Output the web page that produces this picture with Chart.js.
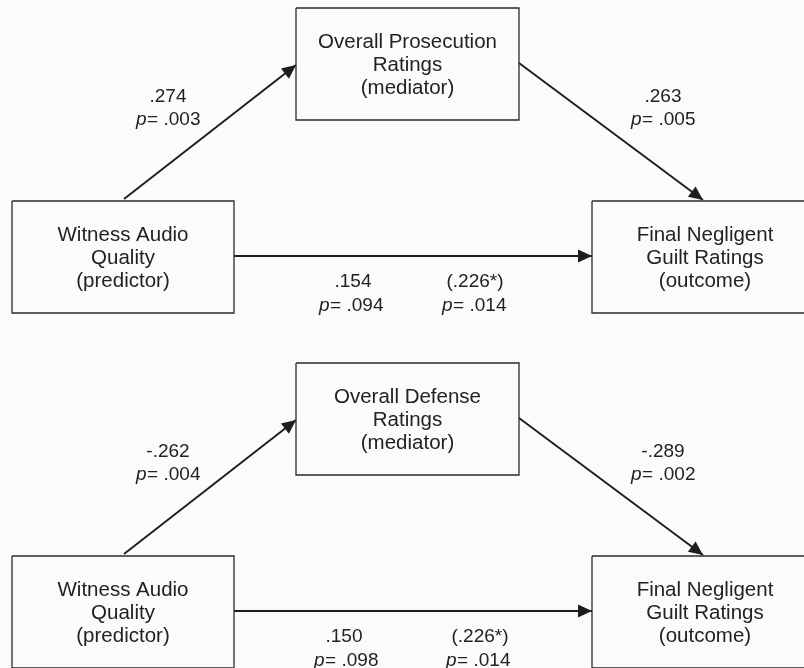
<!DOCTYPE html>
<html>
<head>
<meta charset="utf-8">
<title>Mediation models: witness audio quality and negligent guilt ratings</title>
<script src="https://cdn.jsdelivr.net/npm/chart.js@4.4.1/dist/chart.umd.min.js"></script>
<style>
  html, body { margin: 0; padding: 0; background: #fbfbfb; }
  #wrap { position: relative; width: 804px; height: 668px; }
</style>
</head>
<body>
<div id="wrap"><canvas id="diagram"></canvas></div>
<script>
// ---- Model content: node labels and path estimates for each mediation model ----
const predictorLabel = ['Witness Audio', 'Quality', '(predictor)'];
const mediatorLabels = [
  ['Overall Prosecution', 'Ratings', '(mediator)'],
  ['Overall Defense', 'Ratings', '(mediator)']
];
const outcomeLabel = ['Final Negligent', 'Guilt Ratings', '(outcome)'];

// a path: predictor -> mediator
const pathA  = [0.274, -0.262];
const pathAP = [0.003, 0.004];
// b path: mediator -> outcome
const pathB  = [0.263, -0.289];
const pathBP = [0.005, 0.002];
// c' path: direct effect of predictor on outcome
const directC  = [0.154, 0.150];
const directCP = [0.094, 0.098];
// c path: total effect (shown in parentheses)
const totalC   = [0.226, 0.226];
const totalCP  = [0.014, 0.014];
const totalSig = ['*', '*'];

// ---- Layout (diagram units = pixels of an 804 x 668 page) ----
const W = 804, H = 668;
const panelTop = [0, 355];
const boxes = {
  predictor: { x: 12,  y: 201, w: 222, h: 112 },
  mediator:  { x: 296, y: 8,   w: 223, h: 112 },
  outcome:   { x: 592, y: 201, w: 224, h: 112 }
};
const edgeGeom = {
  a: [[124, 199], [296, 65]],
  b: [[519, 63],  [703, 200]],
  c: [[234, 256], [592, 256]]
};
const labelPos = {
  a:      [[168, 102], [168, 125]],
  b:      [[663, 102], [663, 125]],
  direct: [[[353, 287], [351, 311]], [[344, 287], [346, 311]]],
  total:  [[[475, 287], [474, 311]], [[480, 287], [478, 311]]]
};
const LINE_GAP = 23;
const FONT = '"Liberation Sans", Arial, Helvetica, sans-serif';
const INK = '#1d1d1d';

const fmt = v => (v < 0 ? '-' : '') + Math.abs(v).toFixed(3).replace(/^0/, '');

// ---- Datasets: box outlines and path lines ----
function boxPoints(b, dy) {
  return [
    { x: b.x, y: b.y + dy }, { x: b.x + b.w, y: b.y + dy },
    { x: b.x + b.w, y: b.y + b.h + dy }, { x: b.x, y: b.y + b.h + dy },
    { x: b.x, y: b.y + dy }
  ];
}
const datasets = [];
panelTop.forEach((dy, p) => {
  Object.keys(boxes).forEach(k => {
    datasets.push({
      label: 'box-' + k + '-' + p, data: boxPoints(boxes[k], dy),
      showLine: true, borderColor: '#2a2a2a', borderWidth: 1.3,
      pointRadius: 0, fill: false, tension: 0, arrow: false
    });
  });
  Object.keys(edgeGeom).forEach(k => {
    datasets.push({
      label: 'path-' + k + '-' + p,
      data: edgeGeom[k].map(([x, y]) => ({ x, y: y + dy })),
      showLine: true, borderColor: INK, borderWidth: 1.9,
      pointRadius: 0, fill: false, tension: 0, arrow: true
    });
  });
});

// ---- Plugin: arrowheads and all text ----
function drawPLine(ctx, cx, cy, pval, size) {
  const italic = 'italic ' + size + 'px ' + FONT;
  const normal = size + 'px ' + FONT;
  const rest = '= ' + fmt(pval);
  ctx.font = italic; const wp = ctx.measureText('p').width;
  ctx.font = normal; const wr = ctx.measureText(rest).width;
  const x0 = cx - (wp + wr) / 2;
  ctx.textAlign = 'left';
  ctx.font = italic; ctx.fillText('p', x0, cy);
  ctx.font = normal; ctx.fillText(rest, x0 + wp + 0.5, cy);
}

const diagramPlugin = {
  id: 'diagram',
  beforeDraw(chart) {
    const { ctx } = chart;
    ctx.save();
    ctx.fillStyle = '#fbfbfb';
    ctx.fillRect(0, 0, chart.width, chart.height);
    ctx.restore();
  },
  afterDatasetsDraw(chart) {
    const { ctx, scales: { x: sx, y: sy } } = chart;
    const px = v => sx.getPixelForValue(v);
    const py = v => sy.getPixelForValue(v);
    ctx.save();

    // arrowheads at the end of each path line
    chart.data.datasets.forEach(ds => {
      if (!ds.arrow) return;
      const n = ds.data.length;
      const x1 = px(ds.data[n - 2].x), y1 = py(ds.data[n - 2].y);
      const x2 = px(ds.data[n - 1].x), y2 = py(ds.data[n - 1].y);
      const ang = Math.atan2(y2 - y1, x2 - x1);
      const len = 14, half = 6.5;
      ctx.save();
      ctx.translate(x2, y2);
      ctx.rotate(ang);
      ctx.beginPath();
      ctx.moveTo(0, 0);
      ctx.lineTo(-len, -half);
      ctx.lineTo(-len, half);
      ctx.closePath();
      ctx.fillStyle = INK;
      ctx.fill();
      ctx.restore();
    });

    ctx.fillStyle = '#222';
    ctx.textBaseline = 'alphabetic';

    panelTop.forEach((dy, p) => {
      // node labels, centered in each box
      const nodeText = [
        [boxes.predictor, predictorLabel, 0],
        [boxes.mediator, mediatorLabels[p], 1],
        [boxes.outcome, outcomeLabel, 2]
      ];
      ctx.font = '20.5px ' + FONT;
      ctx.textAlign = 'center';
      nodeText.forEach(([b, lines, idx]) => {
        const cx = idx === 2 ? b.x + 113 : b.x + b.w / 2;
        const midBase = b.y + b.h / 2 + 7 + dy;
        lines.forEach((t, i) => {
          ctx.fillText(t, px(cx), py(midBase + (i - 1) * LINE_GAP));
        });
      });

      // path estimates
      const size = 19;
      ctx.font = size + 'px ' + FONT;
      ctx.textAlign = 'center';
      const la = labelPos.a, lb = labelPos.b;
      ctx.fillText(fmt(pathA[p]), px(la[0][0]), py(la[0][1] + dy));
      drawPLine(ctx, px(la[1][0]), py(la[1][1] + dy), pathAP[p], size);

      ctx.font = size + 'px ' + FONT; ctx.textAlign = 'center';
      ctx.fillText(fmt(pathB[p]), px(lb[0][0]), py(lb[0][1] + dy));
      drawPLine(ctx, px(lb[1][0]), py(lb[1][1] + dy), pathBP[p], size);

      const ld = labelPos.direct[p], lt = labelPos.total[p];
      ctx.font = size + 'px ' + FONT; ctx.textAlign = 'center';
      ctx.fillText(fmt(directC[p]), px(ld[0][0]), py(ld[0][1] + dy));
      drawPLine(ctx, px(ld[1][0]), py(ld[1][1] + dy), directCP[p], size);

      ctx.font = size + 'px ' + FONT; ctx.textAlign = 'center';
      ctx.fillText('(' + fmt(totalC[p]) + totalSig[p] + ')', px(lt[0][0]), py(lt[0][1] + dy));
      drawPLine(ctx, px(lt[1][0]), py(lt[1][1] + dy), totalCP[p], size);
    });

    ctx.restore();
  }
};

new Chart(document.getElementById('diagram'), {
  type: 'scatter',
  data: { datasets },
  options: {
    responsive: true,
    maintainAspectRatio: false,
    animation: false,
    events: [],
    layout: { padding: 0 },
    plugins: { legend: { display: false }, tooltip: { enabled: false } },
    scales: {
      x: { type: 'linear', min: 0, max: W, display: false },
      y: { type: 'linear', min: 0, max: H, reverse: true, display: false }
    }
  },
  plugins: [diagramPlugin]
});
</script>
</body>
</html>
